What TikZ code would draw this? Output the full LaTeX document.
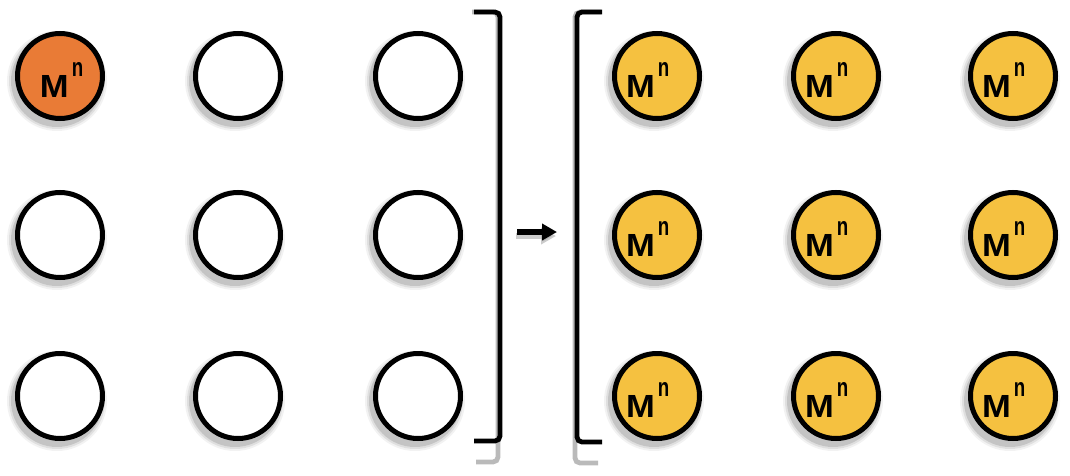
\documentclass[tikz,border=0pt]{standalone}
\usepackage{fontspec}
\setmainfont{Liberation Sans}
\usetikzlibrary{arrows.meta}
\definecolor{orangeM}{RGB}{233,123,54}
\definecolor{yellowM}{RGB}{245,193,64}
\newcommand\mnlabel[1]{\makebox[0pt][l]{\hspace*{#1}\raisebox{-10.5pt}[0pt][0pt]{\fontsize{16pt}{16pt}\selectfont\bfseries\scalebox{1.08}[1]{M}}\hspace*{1.5pt}\raisebox{0pt}[0pt][0pt]{\fontsize{13pt}{13pt}\selectfont\bfseries\scalebox{0.72}[1]{n}}}}
\tikzset{
  circ/.style={circle, draw=black, line width=2.5pt, minimum size=42.5pt, inner sep=0pt, fill=white},
  metal/.style={circ, fill=yellowM},
  first/.style={circ, fill=orangeM},
  brk/.style={draw=black, line width=2.4pt, rounded corners=2.5pt},
  brkshadow/.style={draw=black!45, opacity=0.6, line width=2.4pt, rounded corners=2.5pt},
  arr/.style={draw=black, line width=3pt, -{Triangle[length=7.5pt,width=8pt]}},
  arrshadow/.style={draw=black!40, opacity=0.5, line width=3pt, -{Triangle[length=7.5pt,width=8pt]}},
}
\newcommand\shadowat[2]{%
  \fill[black,opacity=0.05] (#1-3,#2+5) circle (25pt);
  \fill[black,opacity=0.08] (#1-3,#2+5) circle (24pt);
  \fill[black,opacity=0.12] (#1-3,#2+5) circle (23pt);
}
\begin{document}
\begin{tikzpicture}[x=0.5pt,y=-0.5pt]
\useasboundingbox (0,0) rectangle (1070,476);
% shadows of circles
\foreach \x in {60,238,418,657,836,1013}{
  \foreach \y in {76,235,396}{
    \shadowat{\x}{\y}
  }
}
% left grid
\node[first] (L11) at (60,76) {\mnlabel{-10pt}};
\node[circ] (L12) at (238,76) {};
\node[circ] (L13) at (418,76) {};
\node[circ] (L21) at (60,235) {};
\node[circ] (L22) at (238,235) {};
\node[circ] (L23) at (418,235) {};
\node[circ] (L31) at (60,396) {};
\node[circ] (L32) at (238,396) {};
\node[circ] (L33) at (418,396) {};
% right grid
\node[metal] (R11) at (657,76) {\mnlabel{-15.5pt}};
\node[metal] (R12) at (836,76) {\mnlabel{-15.5pt}};
\node[metal] (R13) at (1013,76) {\mnlabel{-15.5pt}};
\node[metal] (R21) at (657,235) {\mnlabel{-15.5pt}};
\node[metal] (R22) at (836,235) {\mnlabel{-15.5pt}};
\node[metal] (R23) at (1013,235) {\mnlabel{-15.5pt}};
\node[metal] (R31) at (657,396) {\mnlabel{-15.5pt}};
\node[metal] (R32) at (836,396) {\mnlabel{-15.5pt}};
\node[metal] (R33) at (1013,396) {\mnlabel{-15.5pt}};
% brackets
\draw[brkshadow] (472,12) -- (498,12) -- (498,462) -- (476,462);
\draw[brkshadow] (601,12) -- (575,12) -- (575,463) -- (598,463);
\draw[brk] (474,12) -- (500,12) -- (500,441) -- (474,441);
\draw[brk] (602,12) -- (577,12) -- (577,442) -- (602,442);
% arrow
\coordinate (as) at (517,232);
\coordinate (ae) at (557,232);
\coordinate (ass) at (516,236);
\coordinate (aes) at (556,236);
\draw[arrshadow] (ass) -- (aes);
\draw[arr] (as) -- (ae);
\end{tikzpicture}
\end{document}
